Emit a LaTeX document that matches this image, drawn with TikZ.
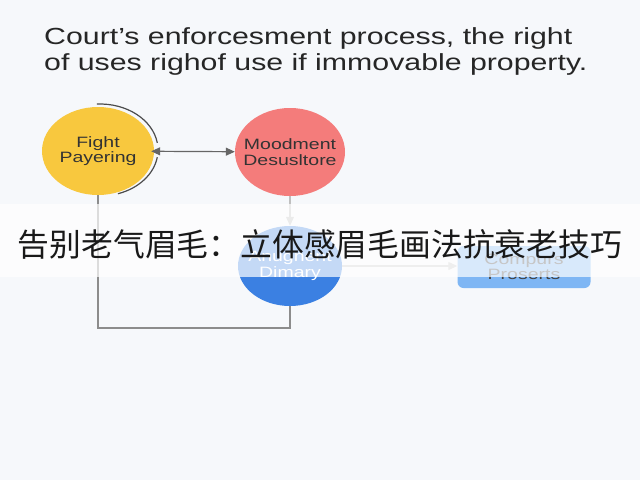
\documentclass[tikz,border=0pt]{standalone}
\usepackage{fontspec}
\setmainfont{Liberation Sans}[FakeStretch=1.3]
\newfontfamily\cjk{Noto Sans CJK SC}
\usetikzlibrary{shapes.geometric,arrows.meta}
\definecolor{bgcol}{HTML}{F6F8FB}
\definecolor{fpcol}{HTML}{F8C83E}
\definecolor{mdcol}{HTML}{F47C7B}
\definecolor{adcol}{HTML}{3B80E2}
\definecolor{cpcol}{HTML}{7EB6F4}
\begin{document}
\begin{tikzpicture}[x=1pt,y=-1pt,
    >={Triangle[length=9pt,width=8pt]},
    blob/.style={ellipse,inner xsep=-16pt,inner ysep=0pt,align=center,
      font=\fontsize{15}{15.5}\selectfont,text=black!80}]
      \fill[bgcol] (0,0) rectangle (640,480);
      \useasboundingbox (0,0) rectangle (640,480);
      \node[anchor=north west,inner sep=0pt,align=left,text=black!85,
        font=\fontsize{23.3}{26}\selectfont] (title) at (44,27)
        {Court's enforcesment process, the right\\of uses righof use if immovable property.};
      \node[blob,fill=fpcol,minimum width=112pt,minimum height=88pt] (fp) at (98,151) {Fight\\Payering};
      \node[blob,fill=mdcol,minimum width=110pt,minimum height=88pt] (md) at (290,152) {Moodment\\Desusltore};
      \node[blob,fill=adcol,minimum width=104pt,minimum height=80pt,text=white] (ad) at (290,266) {Anugnent\\Dimary};
      \node[rectangle,rounded corners=6pt,fill=cpcol,minimum width=133pt,minimum height=42pt,
        align=center,font=\fontsize{15}{15.5}\selectfont,text=black!75] (cp) at (524,267) {Compurs\\Proserts};
      \coordinate (bend) at (98,328);
      \begin{scope}[line width=1.2pt]
        \draw[black!70] (100,150) ++(-93:58 and 46) arc[start angle=-93,end angle=-9,x radius=58,y radius=46];
        \draw[black!70] (100,150) ++(9:58 and 46) arc[start angle=9,end angle=72,x radius=58,y radius=46];
        \draw[<->,black!60,shorten <=-3pt] (fp) to (md);
        \draw[->,black!25] (md) to (ad);
        \draw[->,black!22] (ad.east) to (ad.east -| cp.west);
        \draw[black!45] (fp.south) -- (bend) -| (ad.south);
      \end{scope}
      \fill[white,fill opacity=0.7] (0,204) rectangle (640,277);
      \node[font=\cjk\fontsize{31.8}{32}\selectfont,text=black!90] (banner) at (320,244)
        {告别老气眉毛：立体感眉毛画法抗衰老技巧};
    \end{tikzpicture}
\end{document}
